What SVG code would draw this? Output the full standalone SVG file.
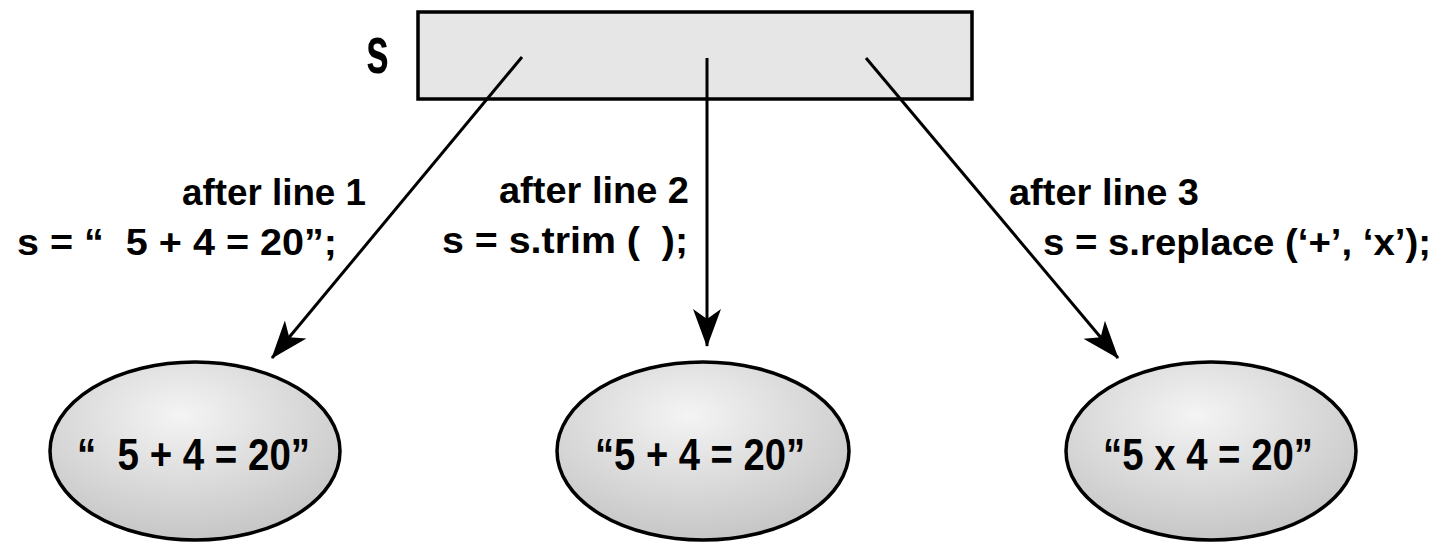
<svg xmlns="http://www.w3.org/2000/svg" width="1438" height="542" viewBox="0 0 1438 542">
<style>
.lbl{font-family:"Liberation Sans",Arial,sans-serif;font-weight:bold;font-size:36px;fill:#000}
.var{font-family:"Liberation Sans",Arial,sans-serif;font-weight:bold;font-size:66px;fill:#000}
.big{font-family:"Liberation Sans",Arial,sans-serif;font-weight:bold;font-size:44px;fill:#000}
.node{stroke:#000;stroke-width:3.5}
.conn{stroke:#000;stroke-width:3;fill:none;marker-end:url(#arr)}
</style>
<defs>
<radialGradient id="g" cx="0.45" cy="0.3" r="0.7">
<stop offset="0" stop-color="#f4f4f4"/>
<stop offset="1" stop-color="#c6c6c6"/>
</radialGradient>
<marker id="arr" markerUnits="userSpaceOnUse" markerWidth="40" markerHeight="34" refX="37" refY="16" orient="auto" viewBox="0 0 40 34">
<path d="M38,16 L0,2 L10,16 L0,30 Z" fill="#000"/>
</marker>
</defs>
<rect width="1438" height="542" fill="#fff"/>
<g id="s-box">
<rect class="node" x="418" y="12" width="554" height="87" fill="#e6e6e6"/>
<text class="var" x="366" y="73" textLength="23" lengthAdjust="spacingAndGlyphs">s</text>
</g>
<g id="connectors">
<line class="conn" x1="522" y1="57" x2="272" y2="358"/>
<line class="conn" x1="707" y1="58" x2="707" y2="346"/>
<line class="conn" x1="866" y1="58" x2="1118" y2="358"/>
</g>
<g id="label1">
<text class="lbl" x="182" y="205" textLength="184" lengthAdjust="spacingAndGlyphs">after line 1</text>
<text class="lbl" x="17" y="255" textLength="320" lengthAdjust="spacingAndGlyphs" xml:space="preserve">s = “  5 + 4 = 20”;</text>
</g>
<g id="label2">
<text class="lbl" x="499" y="203" textLength="190" lengthAdjust="spacingAndGlyphs">after line 2</text>
<text class="lbl" x="442" y="253" textLength="246" lengthAdjust="spacingAndGlyphs" xml:space="preserve">s = s.trim (  );</text>
</g>
<g id="label3">
<text class="lbl" x="1009" y="205" textLength="190" lengthAdjust="spacingAndGlyphs">after line 3</text>
<text class="lbl" x="1043" y="255" textLength="388" lengthAdjust="spacingAndGlyphs">s = s.replace (‘+’, ‘x’);</text>
</g>
<g id="node1">
<ellipse class="node" cx="195" cy="451" rx="145" ry="89" fill="url(#g)"/>
<text class="big" x="77" y="470" textLength="233" lengthAdjust="spacingAndGlyphs" xml:space="preserve">“  5 + 4 = 20”</text>
</g>
<g id="node2">
<ellipse class="node" cx="703" cy="451" rx="146" ry="89" fill="url(#g)"/>
<text class="big" x="595" y="470" textLength="210" lengthAdjust="spacingAndGlyphs">“5 + 4 = 20”</text>
</g>
<g id="node3">
<ellipse class="node" cx="1211" cy="451" rx="145" ry="89" fill="url(#g)"/>
<text class="big" x="1103" y="470" textLength="210" lengthAdjust="spacingAndGlyphs">“5 x 4 = 20”</text>
</g>
</svg>
